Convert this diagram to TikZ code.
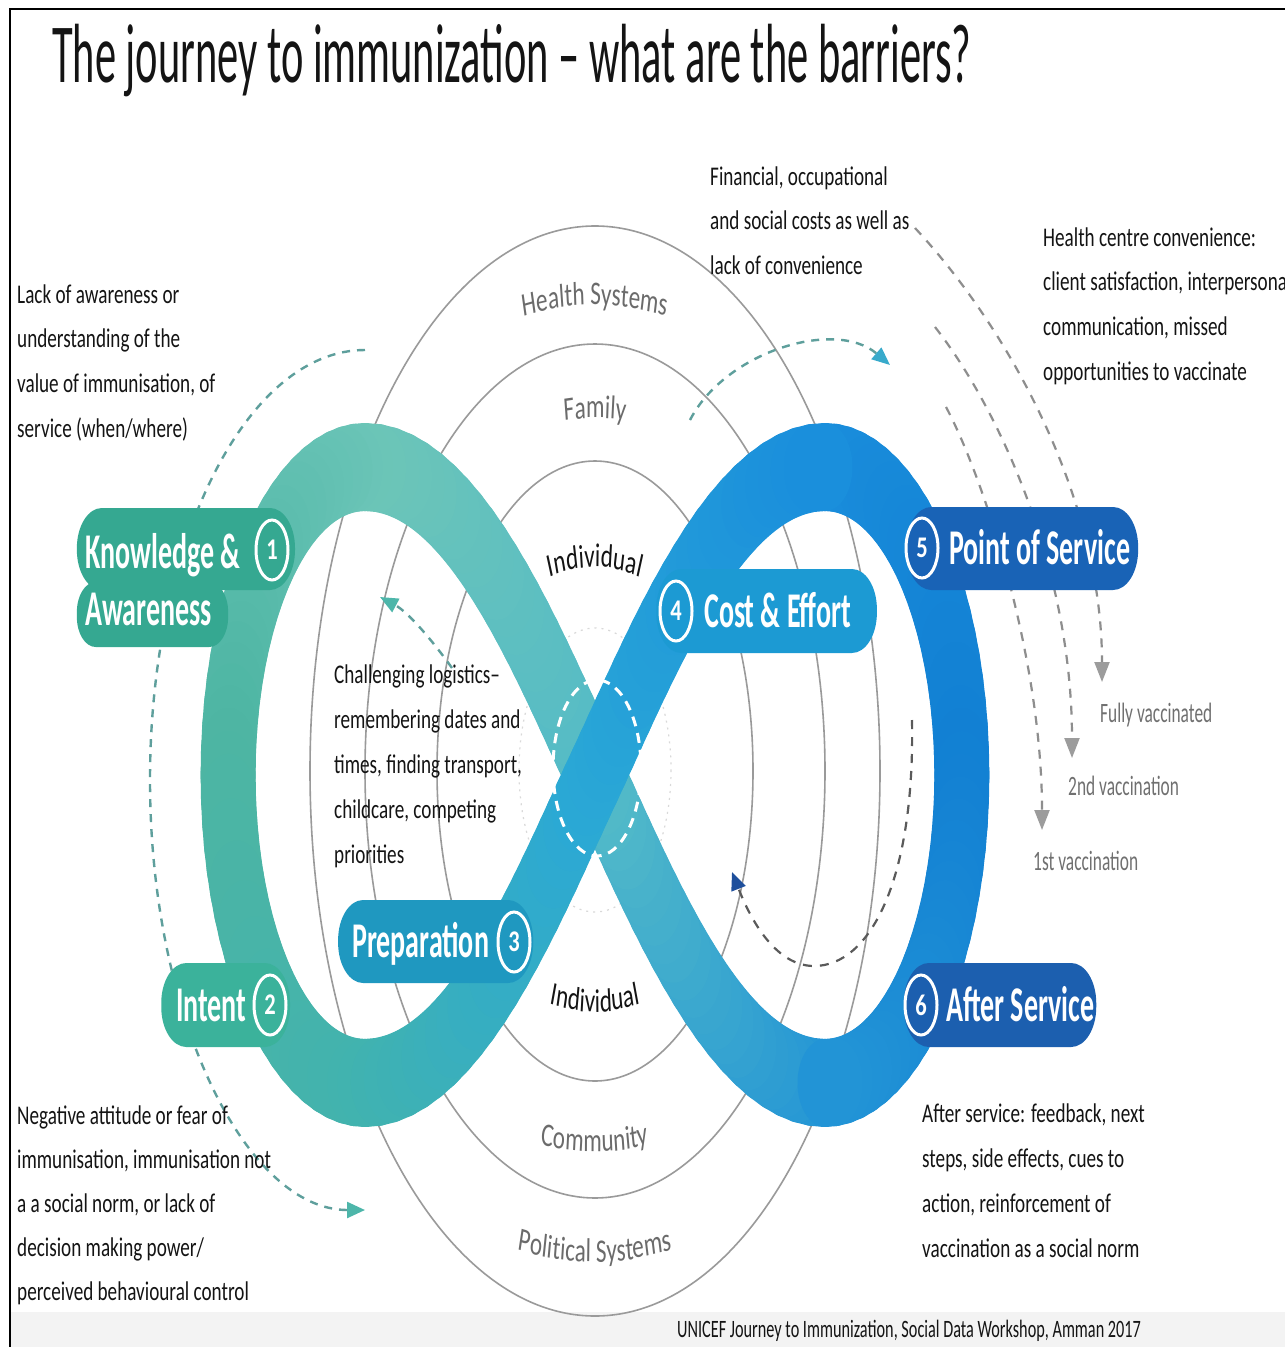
\documentclass[tikz,border=0pt]{standalone}
\usepackage{fontspec}
\setmainfont{Carlito}
\newfontfamily\titlefamily[FakeStretch=0.505]{Carlito}
\newfontfamily\bodyfamily[FakeStretch=0.71]{Carlito}
\newfontfamily\vaccfamily[FakeStretch=0.62]{Carlito}
\newfontfamily\creditfamily[FakeStretch=0.65]{Carlito}
\newfontfamily\labelfamily[FakeStretch=0.56]{Carlito}
\newfontfamily\numfamily[FakeStretch=0.75]{Carlito}
\usetikzlibrary{calc,arrows.meta,decorations.text}

% band colours along the loop
\definecolor{tealTop}{HTML}{6CC5B8}
\definecolor{tealLeft}{HTML}{4DB5A3}
\definecolor{tealBot}{HTML}{42B3AE}
\definecolor{cyanMid}{HTML}{2AA8D6}
\definecolor{blueTop}{HTML}{1A8EDC}
\definecolor{blueRight}{HTML}{1280D3}
\definecolor{blueBot}{HTML}{2294D6}
\definecolor{underMid}{HTML}{52BAC8}
% stage labels
\definecolor{labKA}{HTML}{35A891}
\definecolor{labIN}{HTML}{3BB29B}
\definecolor{labPR}{HTML}{1F98C0}
\definecolor{labCE}{HTML}{1C9AD3}
\definecolor{labPS}{HTML}{1963B6}
\definecolor{labAS}{HTML}{1C5FAF}
% lines and text
\definecolor{ringline}{HTML}{9A9A9A}
\definecolor{ringgray}{HTML}{6B6B6B}
\definecolor{dashteal}{HTML}{5E9F9C}
\definecolor{arrowteal}{HTML}{4DB6AA}
\definecolor{arrowcyan}{HTML}{38AACB}
\definecolor{dashgray}{HTML}{8E8E8E}
\definecolor{arrowgray}{HTML}{9C9C9C}
\definecolor{dashdark}{HTML}{5A5A5A}
\definecolor{arrowblue}{HTML}{1E4F9C}
\definecolor{textblack}{HTML}{141414}
\definecolor{vaccgray}{HTML}{707070}
\definecolor{stripgray}{HTML}{F3F3F3}

\newcommand\blocktext[2]{\parbox[t]{620pt}{\raggedright\bodyfamily\fontsize{27}{#1}\selectfont #2}}
\newcommand\ringfont{\fontsize{33}{36}\selectfont}

% one cubic piece of the band, shaded from colour #5 to colour #6
\newcommand\bandsteps{22}
\newcommand\bandpiece[6]{%
  \foreach \k in {0,...,\bandsteps}{%
    \pgfmathsetmacro\bzt{\k/\bandsteps}%
    \pgfmathsetmacro\bzA{(1-\bzt)^3}%
    \pgfmathsetmacro\bzB{3*\bzt*(1-\bzt)^2}%
    \pgfmathsetmacro\bzC{3*\bzt^2*(1-\bzt)}%
    \pgfmathsetmacro\bzD{\bzt^3}%
    \coordinate (bp\k) at ($\bzA*(#1)+\bzB*(#2)+\bzC*(#3)+\bzD*(#4)$);%
  }%
  \foreach \k in {1,...,\bandsteps}{%
    \pgfmathtruncatemacro\bzj{\k-1}%
    \pgfmathtruncatemacro\bzm{100-100*(\k-0.5)/\bandsteps}%
    \draw[band, draw=#5!\bzm!#6] (bp\bzj) -- (bp\k);%
  }%
}

\tikzset{
  ring/.style={draw=ringline, line width=1.6pt},
  band/.style={line width=88pt, line cap=round},
  pill/.style={fill=#1, rounded corners=40pt},
  badge/.style={draw=white, line width=3pt},
  numtext/.style={text=white, font=\numfamily\bfseries\fontsize{30}{30}\selectfont, inner sep=0pt},
  labtext/.style={text=white, font=\labelfamily\bfseries\fontsize{50}{56}\selectfont, inner sep=0pt, anchor=base west},
  body/.style={inner sep=0pt, anchor=base west, text=textblack},
  vacc/.style={text=vaccgray, font=\vaccfamily\fontsize{28}{30}\selectfont, inner sep=0pt, anchor=base west},
  tealdash/.style={draw=dashteal, line width=2.4pt, dash pattern=on 8pt off 7pt},
  graydash/.style={draw=dashgray, line width=2.2pt, dash pattern=on 9pt off 8pt},
}

\begin{document}
\begin{tikzpicture}[x=1pt, y=-1pt]
\useasboundingbox (0,0) rectangle (1285,1347);
\fill[white] (0,0) rectangle (1285,1347);
\fill[stripgray] (11,1312) rectangle (1285,1347);
\draw[line width=2.5pt] (10,1347) -- (10,9) -- (1285,9);

% title
\node[body] (title) at (52,82) {\titlefamily\fontsize{84}{90}\selectfont The journey to immunization – what are the barriers?};

% concentric rings: individual, family/community, health/political systems
\draw[ring] (595,771) ellipse [x radius=158, y radius=310];
\draw[ring] (595,771) ellipse [x radius=230, y radius=427];
\draw[ring] (595,771) ellipse [x radius=285, y radius=545];
\draw[gray!30, line width=1.2pt, dash pattern=on 2pt off 5pt] (595,770) ellipse [x radius=76, y radius=142];

% barrier arrows around the loop
\coordinate (kaStart) at (365,350);
\draw[tealdash, -{Triangle[length=18pt,width=16pt,color=arrowteal]}] (kaStart) arc[start angle=270, end angle=90, x radius=215, y radius=430];
\coordinate (ceFrom) at (690,420);
\coordinate (ceTo) at (890,365);
\draw[tealdash, -{Triangle[length=18pt,width=15pt,color=arrowcyan]}] (ceFrom) .. controls (725,352) and (835,318) .. (ceTo);
\coordinate (prFrom) at (452,668);
\coordinate (prTo) at (380,597);
\draw[tealdash, -{Triangle[length=18pt,width=15pt,color=arrowteal]}] (prFrom) .. controls (432,640) and (408,612) .. (prTo);

% vaccination steps
\coordinate (vA0) at (915,228); \coordinate (vA1) at (1102,682);
\coordinate (vB0) at (935,327); \coordinate (vB1) at (1072,758);
\coordinate (vC0) at (946,407); \coordinate (vC1) at (1042,830);
\draw[graydash, -{Triangle[length=20pt,width=15pt,color=arrowgray]}] (vA0) .. controls (1010,330) and (1102,500) .. (vA1);
\draw[graydash, -{Triangle[length=20pt,width=15pt,color=arrowgray]}] (vB0) .. controls (1000,410) and (1072,570) .. (vB1);
\draw[graydash, -{Triangle[length=20pt,width=15pt,color=arrowgray]}] (vC0) .. controls (985,480) and (1042,660) .. (vC1);
\coordinate (asFrom) at (912,720);
\coordinate (asTo) at (732,872);
\draw[draw=dashdark, line width=2.2pt, dash pattern=on 9pt off 8pt, -{Triangle[length=18pt,width=15pt,color=arrowblue]}]
  (asFrom) .. controls (915,880) and (870,966) .. (814,966) .. controls (770,966) and (745,905) .. (asTo);

% the journey band (drawn unsquished, then narrowed horizontally)
\begin{scope}[transform canvas={xscale=0.625}]
  \bandpiece{1320,1083}{1160,1083}{1042,895}{952,775}{blueBot}{underMid}
  \bandpiece{952,775}{862,655}{744,467}{584,467}{underMid}{tealTop}
  \bandpiece{584,467}{463,467}{365,605}{365,775}{tealTop}{tealLeft}
  \bandpiece{365,775}{365,945}{463,1083}{584,1083}{tealLeft}{tealBot}
  \bandpiece{1320,467}{1441,467}{1539,605}{1539,775}{blueTop}{blueRight}
  \bandpiece{1539,775}{1539,945}{1441,1083}{1320,1083}{blueRight}{blueBot}
  \bandpiece{584,1083}{744,1083}{862,895}{952,775}{tealBot}{cyanMid}
  \bandpiece{952,775}{1042,655}{1160,467}{1320,467}{cyanMid}{blueTop}
  % stage label plates
  \fill[pill=labKA] (123,508) rectangle (472,590);
  \fill[pill=labKA, rounded corners=30pt] (123,582) rectangle (365,647);
  \fill[pill=labIN] (258,963) rectangle (464,1047);
  \fill[pill=labPR] (541,900) rectangle (853,983);
  \fill[pill=labCE] (1050,569) rectangle (1403,653);
  \fill[pill=labPS] (1450,507) rectangle (1821,590);
  \fill[pill=labAS] (1446,963) rectangle (1754,1047);
\end{scope}

% crossing marker
\draw[white, line width=3pt, dash pattern=on 10pt off 7pt] (597,768) ellipse [x radius=44, y radius=88];

% stage names
\node[labtext] (ka1) at (85,568) {Knowledge \&};
\node[labtext] (ka2) at (85,625) {Awareness};
\node[labtext] (intent) at (176,1021) {Intent};
\node[labtext] (prep) at (352,957) {Preparation};
\node[labtext] (cost) at (704,627) {Cost \& Effort};
\node[labtext] (point) at (949,564) {Point of Service};
\node[labtext] (after) at (946,1021) {After Service};

% numbered badges
\foreach \bx/\by/\bn in {272/550/1, 270/1005/2, 514/942/3, 676/611/4, 922/548/5, 921/1005/6}{
  \draw[badge] (\bx,\by) ellipse [x radius=16, y radius=30];
  \node[numtext] (badge\bn) at (\bx,\by) {\bn};
}

% ring names
\begin{scope}[transform canvas={xscale=0.7}]
  \path[decorate, decoration={text along path, text align=center, text color=ringgray, text={|\ringfont|Health Systems}}]
    (384,771) arc[start angle=180, end angle=360, radius=466];
  \path[decorate, decoration={text along path, text align=center, text color=ringgray, text={|\ringfont|Family}}]
    (497,771) arc[start angle=180, end angle=360, radius=353];
  \path[decorate, decoration={text along path, text align=center, text color=textblack, text={|\ringfont|Individual}}]
    (646,771) arc[start angle=180, end angle=360, radius=204];
  \path[decorate, decoration={text along path, text align=center, text color=textblack, text={|\ringfont|Individual}}]
    (609,771) arc[start angle=180, end angle=0, radius=241];
  \path[decorate, decoration={text along path, text align=center, text color=ringgray, text={|\ringfont|Community}}]
    (469,771) arc[start angle=180, end angle=0, radius=381];
  \path[decorate, decoration={text along path, text align=center, text color=ringgray, text={|\ringfont|Political Systems}}]
    (359,771) arc[start angle=180, end angle=0, radius=491];
\end{scope}

% barrier descriptions
\node[body] (lackText) at (17,303) {\blocktext{44.7}{Lack of awareness or\\ understanding of the\\ value of immunisation, of\\ service (when/where)}};
\node[body] (finText) at (710,185) {\blocktext{44.5}{Financial, occupational\\ and social costs as well as\\ lack of convenience}};
\node[body] (centreText) at (1043,246) {\blocktext{44.7}{Health centre convenience:\\ client satisfaction, interpersonal\\ communication, missed\\ opportunities to vaccinate}};
\node[body] (logText) at (334,683) {\blocktext{45}{Challenging logistics–\\ remembering dates and\\ times, finding transport,\\ childcare, competing\\ priorities}};
\node[body] (negText) at (17,1124) {\blocktext{44}{Negative attitude or fear of\\ immunisation, immunisation not\\ a a social norm, or lack of\\ decision making power/\\ perceived behavioural control}};
\node[body] (afterText) at (922,1122) {\blocktext{45}{After service: feedback, next\\ steps, side effects, cues to\\ action, reinforcement of\\ vaccination as a social norm}};

% vaccination labels
\node[vacc] (fully) at (1100,722) {Fully vaccinated};
\node[vacc] (second) at (1068,795) {2nd vaccination};
\node[vacc] (first) at (1033,870) {1st vaccination};

% source
\node[body] (credit) at (677,1337) {\creditfamily\fontsize{25}{28}\selectfont UNICEF Journey to Immunization, Social Data Workshop, Amman 2017};
\end{tikzpicture}
\end{document}
